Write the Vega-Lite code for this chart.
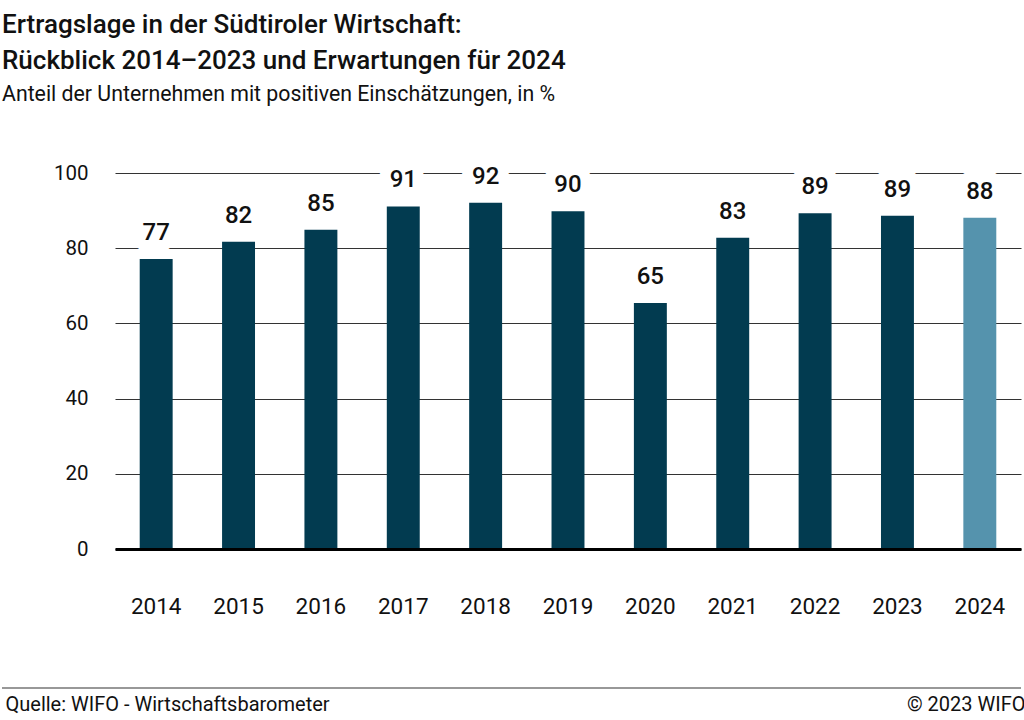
{
  "$schema": "https://vega.github.io/schema/vega-lite/v6.json",
  "width": 1019,
  "height": 376,
  "autosize": {"type": "none"},
  "padding": {"left": 2, "top": 173, "right": 3, "bottom": 171},
  "background": "white",
  "title": {
    "text": ["Ertragslage in der Südtiroler Wirtschaft:", "Rückblick 2014–2023 und Erwartungen für 2024"],
    "subtitle": "Anteil der Unternehmen mit positiven Einschätzungen, in %",
    "anchor": "start",
    "frame": "group",
    "font": "Roboto",
    "fontSize": 26,
    "fontWeight": 500,
    "lineHeight": 36,
    "color": "#111111",
    "subtitleFont": "Roboto",
    "subtitleFontSize": 21.3,
    "subtitleColor": "#111111",
    "subtitlePadding": 10,
    "offset": 58
  },
  "config": {"view": {"stroke": null}, "font": "Roboto"},
  "data": {
    "values": [
      {"year": "2014", "value": 77.1, "type": "Ist"},
      {"year": "2015", "value": 81.7, "type": "Ist"},
      {"year": "2016", "value": 84.9, "type": "Ist"},
      {"year": "2017", "value": 91.1, "type": "Ist"},
      {"year": "2018", "value": 92.1, "type": "Ist"},
      {"year": "2019", "value": 89.8, "type": "Ist"},
      {"year": "2020", "value": 65.4, "type": "Ist"},
      {"year": "2021", "value": 82.8, "type": "Ist"},
      {"year": "2022", "value": 89.3, "type": "Ist"},
      {"year": "2023", "value": 88.6, "type": "Ist"},
      {"year": "2024", "value": 88.1, "type": "Erwartung"}
    ]
  },
  "layer": [
    {
      "mark": {"type": "bar"},
      "encoding": {
        "x": {
          "field": "year",
          "type": "ordinal",
          "scale": {"range": [113, 1019], "paddingInner": 0.6, "paddingOuter": 0.3},
          "axis": {
            "title": "Quelle: WIFO - Wirtschaftsbarometer",
            "titleX": 3,
            "titleY": 161,
            "titleAlign": "left",
            "titleBaseline": "alphabetic",
            "titleFont": "Roboto",
            "titleFontSize": 20,
            "titleFontWeight": 400,
            "titleColor": "#111111",
            "labelAngle": 0,
            "labelFont": "Roboto",
            "labelFontSize": 22.5,
            "labelColor": "#111111",
            "labelPadding": 46,
            "labelBaseline": "top",
            "ticks": false,
            "tickSize": 0,
            "domainColor": "#000000",
            "domainWidth": 3,
            "zindex": 1
          }
        },
        "y": {
          "field": "value",
          "type": "quantitative",
          "scale": {"domain": [0, 100]},
          "axis": {
            "orient": "left",
            "offset": -113,
            "values": [0, 20, 40, 60, 80, 100],
            "title": null,
            "grid": true,
            "gridColor": "#333333",
            "gridWidth": 1.2,
            "domain": false,
            "ticks": false,
            "tickSize": 0,
            "labelPadding": 27,
            "labelFont": "Roboto",
            "labelFontSize": 20.5,
            "labelColor": "#111111"
          }
        },
        "color": {
          "field": "type",
          "type": "nominal",
          "scale": {"domain": ["Ist", "Erwartung"], "range": ["#023b50", "#5593ad"]},
          "legend": null
        }
      }
    },
    {
      "mark": {"type": "text", "dy": -19, "baseline": "alphabetic", "font": "Roboto", "fontSize": 24, "fontWeight": 500, "fill": "white", "stroke": "white", "strokeWidth": 22, "strokeJoin": "round"},
      "encoding": {
        "x": {"field": "year", "type": "ordinal"},
        "y": {"field": "value", "type": "quantitative", "axis": null},
        "text": {"field": "value", "type": "quantitative", "format": ".0f"}
      }
    },
    {
      "mark": {"type": "text", "dy": -19, "baseline": "alphabetic", "font": "Roboto", "fontSize": 24, "fontWeight": 500, "color": "#111111"},
      "encoding": {
        "x": {"field": "year", "type": "ordinal"},
        "y": {
          "field": "value",
          "type": "quantitative",
          "axis": {
            "orient": "right",
            "title": "© 2023 WIFO",
            "titleAngle": 0,
            "titleX": 4,
            "titleY": 537,
            "titleAlign": "right",
            "titleBaseline": "alphabetic",
            "titleFont": "Roboto",
            "titleFontSize": 20,
            "titleFontWeight": 400,
            "titleColor": "#111111",
            "labels": false,
            "ticks": false,
            "domain": false,
            "grid": false
          }
        },
        "text": {"field": "value", "type": "quantitative", "format": ".0f"}
      }
    },
    {
      "data": {"values": [{}]},
      "mark": {"type": "rule", "color": "#333333", "strokeWidth": 1.2},
      "encoding": {
        "y": {"datum": -36.97, "type": "quantitative", "axis": null}
      }
    }
  ],
  "resolve": {"axis": {"y": "independent"}}
}
